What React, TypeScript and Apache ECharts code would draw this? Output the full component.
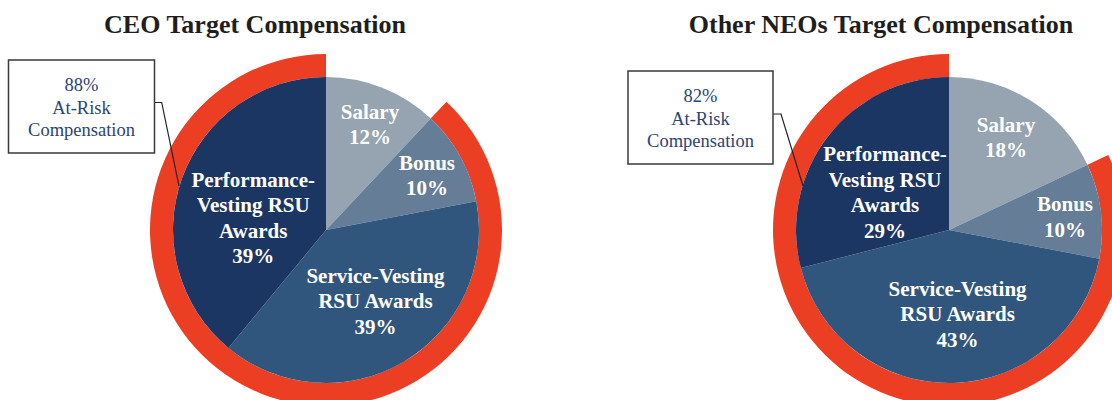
import React, { useEffect, useRef } from 'react';
import * as echarts from 'echarts';

// ---- data ----
const categories = ['Salary', 'Bonus', 'Service-Vesting RSU Awards', 'Performance-Vesting RSU Awards'];
const categoryLabelLines = ['Salary', 'Bonus', 'Service-Vesting\nRSU Awards', 'Performance-\nVesting RSU\nAwards'];
const ceoValues = [12, 10, 39, 39];
const otherValues = [18, 10, 43, 29];
const ceoAtRisk = 88;
const otherAtRisk = 82;
const chartTitles = ['CEO Target Compensation', 'Other NEOs Target Compensation'];
const atRiskLabel = 'At-Risk\nCompensation';

// ---- styles / layout ----
const sliceColors = ['#96a4b2', '#657d96', '#30567e', '#1c3664'];
const ringColor = '#ec3e23';
const serif = '"Liberation Serif", "Times New Roman", serif';

const panels = [
  {
    values: ceoValues,
    atRisk: ceoAtRisk,
    title: chartTitles[0],
    center: [326, 230],
    titleX: 255,
    box: { x: 8.5, y: 60, w: 146, h: 93 },
    connector: [[154.5, 102.5], [161.7, 102.5], [179, 186]],
    labelOffsets: [[44, -105.5], [101, -54.5], [49.4, 71], [-72.8, -12]],
  },
  {
    values: otherValues,
    atRisk: otherAtRisk,
    title: chartTitles[1],
    center: [949, 230],
    titleX: 881,
    box: { x: 628, y: 71, w: 145, h: 93 },
    connector: [[773, 114], [781, 114], [803, 186]],
    labelOffsets: [[57, -92.5], [116, -13], [8.6, 84], [-64, -37.3]],
  },
];

const PIE_R = 153;
const RING_R = 176;

export default function App() {
  const ref = useRef<HTMLDivElement>(null);

  useEffect(() => {
    document.body.style.margin = '0';
    if (!ref.current) return;
    const chart = echarts.init(ref.current, null, { renderer: 'svg' });

    const series: any[] = [];
    const graphics: any[] = [];
    const titles: any[] = [];

    panels.forEach((p, pi) => {
      const [cx, cy] = p.center;
      titles.push({
        text: p.title,
        left: p.titleX,
        top: 11,
        padding: 0,
        textAlign: 'center',
        textVerticalAlign: 'top',
        textStyle: { fontFamily: serif, fontWeight: 'bold', fontSize: 26, color: '#1e1e1e' },
      });

      series.push({
        type: 'pie',
        name: 'ring' + pi,
        center: [cx, cy],
        radius: [PIE_R, RING_R],
        startAngle: 90,
        clockwise: true,
        silent: true,
        z: 1,
        label: { show: false },
        labelLine: { show: false },
        emphasis: { disabled: true },
        data: [
          { name: 'Fixed', value: 100 - p.atRisk, itemStyle: { color: 'rgba(0,0,0,0)' } },
          { name: 'At-Risk', value: p.atRisk, itemStyle: { color: ringColor } },
        ],
      });

      series.push({
        type: 'pie',
        name: p.title,
        center: [cx, cy],
        radius: [0, PIE_R],
        startAngle: 90,
        clockwise: true,
        silent: true,
        z: 2,
        avoidLabelOverlap: false,
        emphasis: { disabled: true },
        itemStyle: { borderWidth: 0 },
        labelLine: { show: false },
        label: {
          show: true,
          position: 'inside',
          formatter: (prm: any) => categoryLabelLines[prm.dataIndex] + '\n' + prm.value + '%',
          color: '#ffffff',
          fontFamily: serif,
          fontWeight: 'bold',
          fontSize: 21,
          lineHeight: 25.5,
          align: 'center',
        },
        labelLayout: (prm: any) => {
          const off = p.labelOffsets[prm.dataIndex];
          return { x: cx + off[0], y: cy + off[1], align: 'center', verticalAlign: 'middle' };
        },
        data: categories.map((n, i) => ({
          name: n,
          value: p.values[i],
          itemStyle: { color: sliceColors[i] },
        })),
      });

      graphics.push({
        type: 'polyline',
        z: 100,
        silent: true,
        shape: { points: p.connector },
        style: { stroke: '#222', lineWidth: 1.2, fill: null },
      });
      graphics.push({
        type: 'rect',
        z: 100,
        silent: true,
        shape: { x: p.box.x, y: p.box.y, width: p.box.w, height: p.box.h },
        style: { fill: '#ffffff', stroke: '#3a3a3a', lineWidth: 1.5 },
      });
      graphics.push({
        type: 'text',
        z: 101,
        silent: true,
        x: p.box.x + p.box.w / 2,
        y: p.box.y + p.box.h / 2 + 1,
        style: {
          text: p.atRisk + '%\n' + atRiskLabel,
          fontFamily: serif,
          fontSize: 18.5,
          lineHeight: 22.5,
          fill: '#2c4473',
          align: 'center',
          verticalAlign: 'middle',
        },
      });
    });

    chart.setOption({
      animation: false,
      backgroundColor: '#ffffff',
      title: titles,
      series,
      graphic: { elements: graphics },
    });

    return () => chart.dispose();
  }, []);

  return <div ref={ref} style={{ width: 1112, height: 400 }} />;
}
